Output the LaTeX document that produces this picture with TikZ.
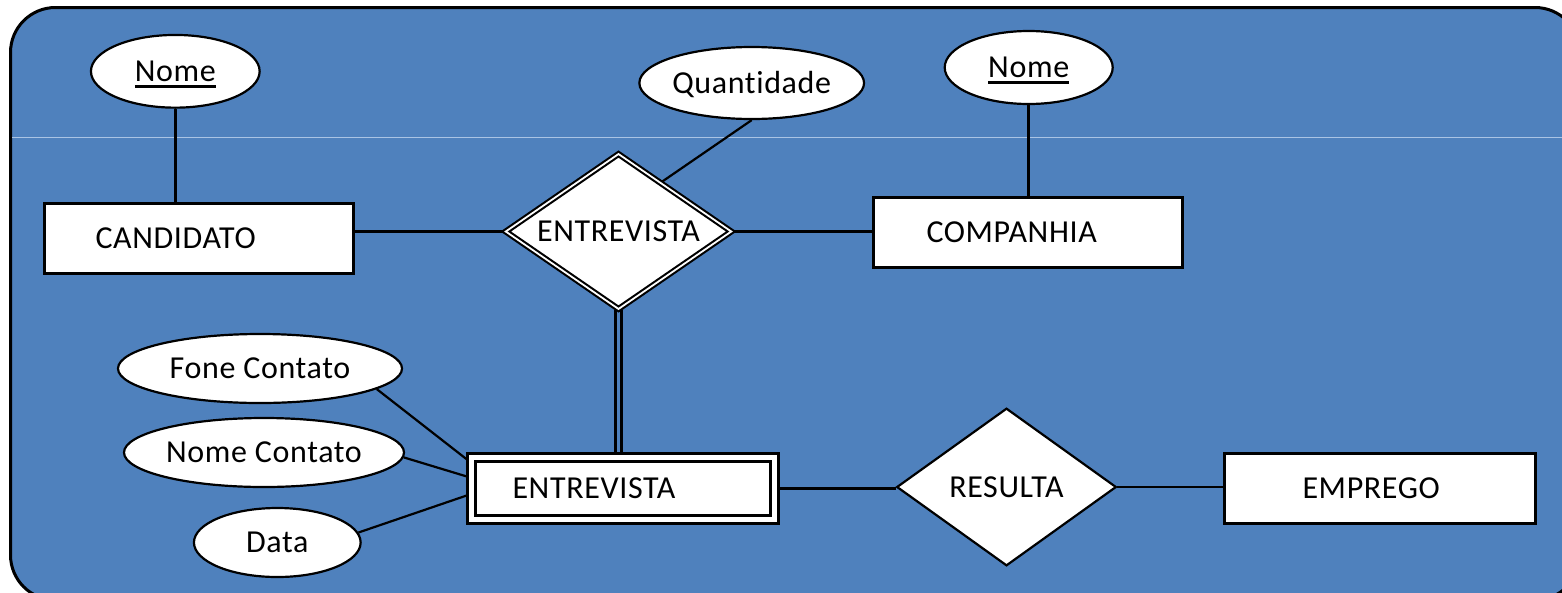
\documentclass[tikz,border=0pt]{standalone}
\usepackage{fontspec}
\setmainfont{Carlito}[LetterSpace=2,Ligatures=NoCommon]
\usetikzlibrary{shapes.geometric,calc}
\definecolor{bgblue}{RGB}{79,129,189}
\definecolor{hair}{RGB}{170,196,228}
\pgfdeclarelayer{bg}
\pgfdeclarelayer{lines}
\pgfsetlayers{bg,lines,main}
\newcommand\ulname[1]{\setbox0\hbox{#1}\rlap{\rule[-6.5pt]{\wd0}{3pt}}\box0}
\tikzset{
  every node/.style={font=\fontsize{32}{38}\selectfont, text height=20.6pt, text depth=0pt},
  attr/.style={ellipse, draw=black, line width=2.2pt, fill=white, inner sep=0pt},
  ent/.style={rectangle, draw=black, line width=3pt, fill=white, align=left, inner ysep=0pt, minimum height=70pt},
  rel/.style={diamond, draw=black, fill=white, inner sep=0pt},
  link/.style={draw=black, line width=2.6pt},
  thinlink/.style={draw=black, line width=2.2pt},
}
\begin{document}
\begin{tikzpicture}[x=1pt,y=-1pt]
\useasboundingbox (0,0) rectangle (1562,592);

% attributes
\node[attr, minimum width=168.7pt, minimum height=72.7pt] (nome1) at (175.3,71.3) {\ulname{Nome}};
\node[attr, minimum width=211pt, minimum height=72pt] (quant) at (751.7,83) {Quantidade};
\node[attr, minimum width=168pt, minimum height=73pt] (nome2) at (1028.7,67.5) {\ulname{Nome}};
\node[attr, minimum width=284pt, minimum height=69pt] (fone) at (260,368.5) {Fone Contato};
\node[attr, minimum width=280pt, minimum height=69pt] (nomec) at (264,452.5) {Nome Contato};
\node[attr, minimum width=166.7pt, minimum height=69pt] (data) at (277.3,542.5) {Data};

% entities
\node[ent, minimum width=309pt, inner xsep=51pt, text width=207pt] (cand) at (199,238.5) {CANDIDATO};
\node[ent, minimum width=309pt, inner xsep=53pt, text width=203pt] (comp) at (1028,232.5) {COMPANHIA};
\node[ent, minimum width=311pt, inner xsep=78pt, text width=155pt] (emp) at (1380,488.5) {EMPREGO};
\node[ent, double, double distance=5pt, line width=3pt, minimum width=303pt, minimum height=62pt, inner xsep=41pt, text width=221pt] (went) at (623,488.5) {ENTREVISTA};

% relationships
\node[rel, double, double distance=1.8pt, line width=2.1pt, aspect=1.454, minimum width=226.4pt, minimum height=155.8pt] (rel1) at (618.5,231.5) {ENTREVISTA};
\node[rel, line width=2.2pt, aspect=1.39, minimum width=219.6pt, minimum height=157.6pt] (res) at (1006.5,487) {RESULTA};

% connectors
\begin{pgfonlayer}{lines}
\draw[link] (nome1.south) -- (nome1.south |- cand.north);
\draw[link] (nome2.south) -- (nome2.south |- comp.north);
\draw[link] (cand.east |- rel1.west) -- (rel1.west);
\draw[link] (rel1.east) -- (rel1.east -| comp.west);
\draw[thinlink] (quant.south) -- ($(rel1.north)!0.375!(rel1.east)$);
\draw[line width=3pt, double=bgblue, double distance=2.7pt] (rel1.south) -- (rel1.south |- went.north);
\draw[link] (went.east) -- (went.east -| res.west);
\draw[link] (res.east) -- (res.east -| emp.west);
\draw[thinlink] (fone.-10.6) -- ($(went.north west)!0.09!(went.south west)$);
\draw[thinlink] (nomec.-2) -- ($(went.north west)!0.33!(went.south west)$);
\draw[thinlink] (data.7) -- ($(went.north west)!0.59!(went.south west)$);
\end{pgfonlayer}

% background
\begin{pgfonlayer}{bg}
\begin{scope}
\clip (0,0) rectangle (1562,592);
\draw[line width=3pt, fill=bgblue, rounded corners=45pt] (10.5,7.5) rectangle (1580,600);
\draw[hair, line width=1.2pt] (12,137.5) -- (1562,137.5);
\end{scope}
\end{pgfonlayer}
\end{tikzpicture}
\end{document}
